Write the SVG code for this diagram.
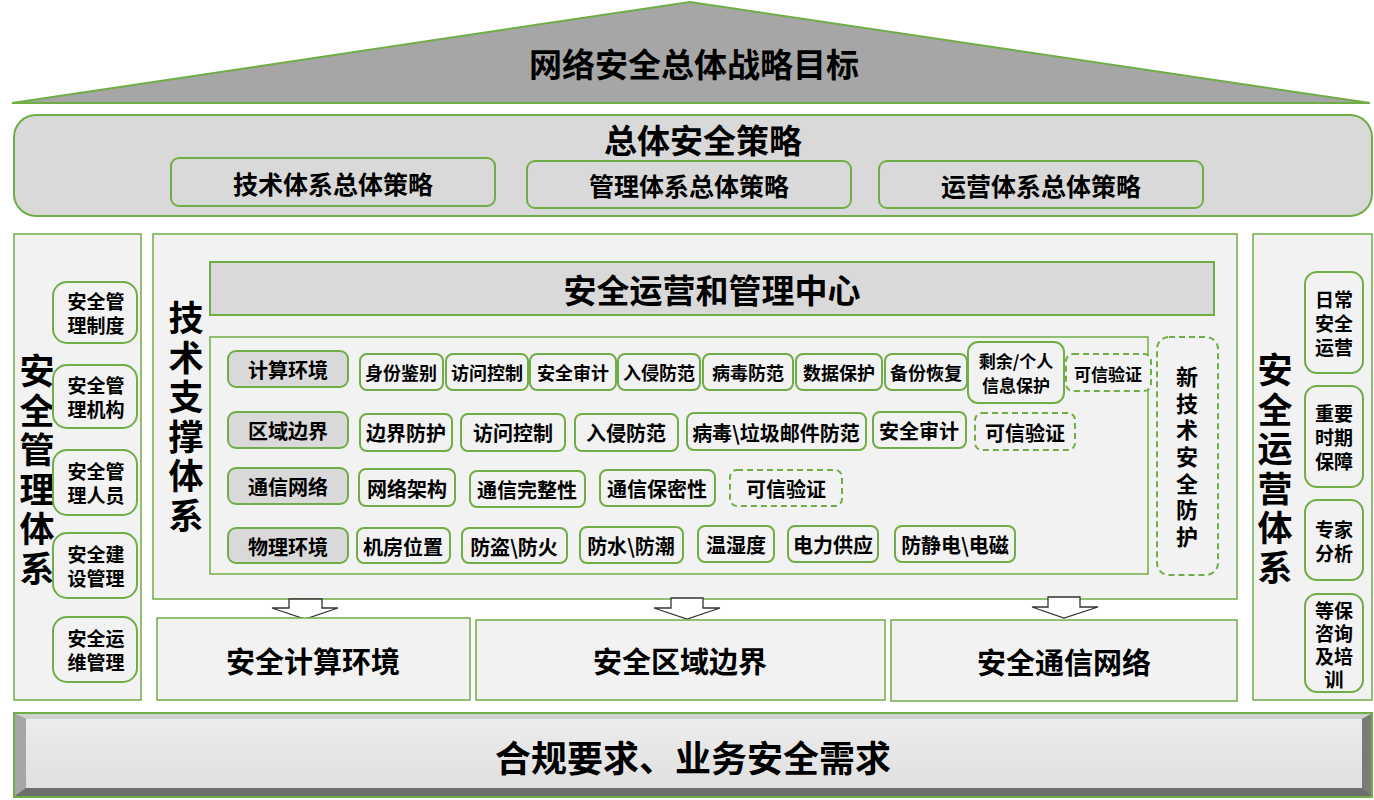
<svg xmlns="http://www.w3.org/2000/svg" width="1374" height="800" viewBox="0 0 1374 800">
<defs>
<style>
text{font-family:"Noto Sans CJK SC","Noto Sans",sans-serif;font-weight:700;fill:#000;text-anchor:middle;dominant-baseline:central}
.v{writing-mode:vertical-rl;text-orientation:upright}
.pan{fill:#f2f2f2;stroke:#70ad47;stroke-width:1.5}
.hdr{fill:#d9d9d9;stroke:#70ad47;stroke-width:2}
.it{fill:#f2f2f2;stroke:#70ad47;stroke-width:2}
.lab{fill:#d9d9d9;stroke:#70ad47;stroke-width:2}
.dash{fill:#f2f2f2;stroke:#70ad47;stroke-width:2;stroke-dasharray:6 4}
.arr{fill:#fff;stroke:#333;stroke-width:1.3}
.t18{font-size:18px}.t20{font-size:20px}.t19{font-size:19px}.t17{font-size:17px}
.t25{font-size:25px}.t29{font-size:29px}.t33{font-size:33px}.t36{font-size:36px}
.vb{font-size:35px;letter-spacing:4.5px}
.vs{font-size:22px;letter-spacing:4.7px}
</style>
<linearGradient id="face" x1="0" y1="0" x2="0" y2="1">
<stop offset="0" stop-color="#ececec"/><stop offset="1" stop-color="#e0e0e0"/>
</linearGradient>
</defs>
<rect width="1374" height="800" fill="#fff"/>

<g id="goal">
<polygon points="12,103 690,2 1370,103" fill="#a6a6a6" stroke="#70ad47" stroke-width="2"/>
<text x="694" y="63" class="t33">网络安全总体战略目标</text>
</g>

<g id="strategy">
<rect x="14" y="115" width="1358" height="101" rx="22" class="hdr"/>
<text x="703" y="139" class="t33">总体安全策略</text>
</g>
<g id="tech-strategy"><rect x="171" y="158" width="324" height="48" rx="8" class="hdr"/><text x="333" y="183" class="t25">技术体系总体策略</text></g>
<g id="mgmt-strategy"><rect x="527" y="161" width="324" height="47" rx="8" class="hdr"/><text x="689" y="185" class="t25">管理体系总体策略</text></g>
<g id="ops-strategy"><rect x="879" y="161" width="324" height="47" rx="8" class="hdr"/><text x="1041" y="185" class="t25">运营体系总体策略</text></g>

<g id="mgmt-system">
<rect x="14" y="234" width="127" height="466" class="pan"/>
<text x="37" y="472" class="v vb">安全管理体系</text>
</g>
<g id="m1"><rect x="53" y="282" width="84" height="61" rx="14" class="it"/><text class="t19"><tspan x="96" y="300">安全管</tspan><tspan x="96" y="324">理制度</tspan></text></g>
<g id="m2"><rect x="53" y="365" width="84" height="63" rx="14" class="it"/><text class="t19"><tspan x="96" y="384">安全管</tspan><tspan x="96" y="408">理机构</tspan></text></g>
<g id="m3"><rect x="53" y="450" width="84" height="65" rx="14" class="it"/><text class="t19"><tspan x="96" y="470">安全管</tspan><tspan x="96" y="494">理人员</tspan></text></g>
<g id="m4"><rect x="53" y="533" width="84" height="65" rx="14" class="it"/><text class="t19"><tspan x="96" y="553">安全建</tspan><tspan x="96" y="577">设管理</tspan></text></g>
<g id="m5"><rect x="53" y="617" width="84" height="65" rx="14" class="it"/><text class="t19"><tspan x="96" y="637">安全运</tspan><tspan x="96" y="661">维管理</tspan></text></g>

<g id="tech-system">
<rect x="153" y="234" width="1084" height="365" class="pan"/>
<text x="186" y="419" class="v vb">技术支撑体系</text>
</g>
<g id="soc"><rect x="210" y="262" width="1004" height="53" class="hdr"/><text x="712" y="289" class="t33">安全运营和管理中心</text></g>
<g id="inner"><rect x="210" y="337" width="938" height="237" class="pan" stroke-width="2"/></g>

<g id="row1">
<rect x="228" y="351" width="120" height="36" rx="8" class="lab"/><text x="288" y="369" class="t20">计算环境</text>
<rect x="360" y="354" width="83" height="36" rx="7" class="it"/><text x="401" y="372" class="t18">身份鉴别</text>
<rect x="446" y="354" width="82" height="36" rx="7" class="it"/><text x="487" y="372" class="t18">访问控制</text>
<rect x="530" y="354" width="86" height="36" rx="7" class="it"/><text x="573" y="372" class="t18">安全审计</text>
<rect x="618" y="354" width="82" height="36" rx="7" class="it"/><text x="659" y="372" class="t18">入侵防范</text>
<rect x="703" y="354" width="90" height="36" rx="7" class="it"/><text x="748" y="372" class="t18">病毒防范</text>
<rect x="796" y="354" width="86" height="36" rx="7" class="it"/><text x="839" y="372" class="t18">数据保护</text>
<rect x="885" y="354" width="82" height="36" rx="7" class="it"/><text x="926" y="372" class="t18">备份恢复</text>
<rect x="968" y="342" width="96" height="61" rx="10" class="it"/><text class="t17"><tspan x="1016" y="360">剩余/个人</tspan><tspan x="1016" y="384">信息保护</tspan></text>
<rect x="1066" y="354" width="85" height="37" rx="7" class="dash"/><text x="1108" y="373" class="t17">可信验证</text>
</g>
<g id="row2">
<rect x="228" y="412" width="120" height="36" rx="8" class="lab"/><text x="288" y="430" class="t20">区域边界</text>
<rect x="360" y="414" width="92" height="37" rx="7" class="it"/><text x="406" y="432" class="t20">边界防护</text>
<rect x="461" y="414" width="104" height="37" rx="7" class="it"/><text x="513" y="432" class="t20">访问控制</text>
<rect x="575" y="414" width="103" height="37" rx="7" class="it"/><text x="626" y="432" class="t20">入侵防范</text>
<rect x="687" y="413" width="179" height="37" rx="7" class="it"/><text x="776" y="432" class="t20">病毒\垃圾邮件防范</text>
<rect x="873" y="412" width="93" height="36" rx="7" class="it"/><text x="919" y="430" class="t20">安全审计</text>
<rect x="975" y="413" width="100" height="37" rx="7" class="dash"/><text x="1025" y="432" class="t20">可信验证</text>
</g>
<g id="row3">
<rect x="228" y="468" width="120" height="36" rx="8" class="lab"/><text x="288" y="486" class="t20">通信网络</text>
<rect x="359" y="469" width="96" height="37" rx="7" class="it"/><text x="407" y="488" class="t20">网络架构</text>
<rect x="470" y="471" width="115" height="36" rx="7" class="it"/><text x="527" y="489" class="t20">通信完整性</text>
<rect x="600" y="470" width="115" height="36" rx="7" class="it"/><text x="657" y="488" class="t20">通信保密性</text>
<rect x="730" y="470" width="112" height="36" rx="7" class="dash"/><text x="786" y="488" class="t20">可信验证</text>
</g>
<g id="row4">
<rect x="228" y="528" width="120" height="35" rx="8" class="lab"/><text x="288" y="546" class="t20">物理环境</text>
<rect x="357" y="528" width="93" height="35" rx="7" class="it"/><text x="403" y="546" class="t20">机房位置</text>
<rect x="462" y="528" width="105" height="35" rx="7" class="it"/><text x="514" y="546" class="t20">防盗\防火</text>
<rect x="580" y="527" width="103" height="36" rx="7" class="it"/><text x="631" y="545" class="t20">防水\防潮</text>
<rect x="698" y="526" width="76" height="36" rx="7" class="it"/><text x="736" y="544" class="t20">温湿度</text>
<rect x="788" y="526" width="90" height="36" rx="7" class="it"/><text x="833" y="544" class="t20">电力供应</text>
<rect x="895" y="526" width="120" height="36" rx="7" class="it"/><text x="955" y="544" class="t20">防静电\电磁</text>
</g>
<g id="new-tech">
<rect x="1157" y="337" width="61" height="238" rx="12" class="dash"/>
<text x="1187" y="459" class="v vs">新技术安全防护</text>
</g>

<g id="connectors">
<path class="arr" d="M289,599 H322 V608 H338 L305,619 L272,608 H289 Z"/>
<path class="arr" d="M671,598 H703 V608 H720 L687,619 L654,608 H671 Z"/>
<path class="arr" d="M1048,597 H1080 V607 H1098 L1064,618 L1032,607 H1048 Z"/>
</g>

<g id="sec-compute"><rect x="157" y="618" width="313" height="82" class="pan"/><text x="313" y="660" class="t29">安全计算环境</text></g>
<g id="sec-boundary"><rect x="476" y="620" width="409" height="80" class="pan"/><text x="680" y="660" class="t29">安全区域边界</text></g>
<g id="sec-network"><rect x="891" y="620" width="346" height="81" class="pan"/><text x="1064" y="661" class="t29">安全通信网络</text></g>

<g id="ops-system">
<rect x="1253" y="234" width="119" height="466" class="pan"/>
<text x="1275" y="471" class="v vb">安全运营体系</text>
</g>
<g id="o1"><rect x="1305" y="272" width="58" height="101" rx="12" class="it"/><text class="t19"><tspan x="1334" y="298">日常</tspan><tspan x="1334" y="322">安全</tspan><tspan x="1334" y="346">运营</tspan></text></g>
<g id="o2"><rect x="1305" y="386" width="58" height="101" rx="12" class="it"/><text class="t19"><tspan x="1334" y="412">重要</tspan><tspan x="1334" y="436">时期</tspan><tspan x="1334" y="460">保障</tspan></text></g>
<g id="o3"><rect x="1305" y="500" width="58" height="80" rx="12" class="it"/><text class="t19"><tspan x="1334" y="528">专家</tspan><tspan x="1334" y="552">分析</tspan></text></g>
<g id="o4"><rect x="1305" y="594" width="58" height="98" rx="12" class="it"/><text class="t19"><tspan x="1334" y="609">等保</tspan><tspan x="1334" y="632">咨询</tspan><tspan x="1334" y="655">及培</tspan><tspan x="1334" y="678">训</tspan></text></g>

<g id="compliance">
<rect x="14" y="713" width="1358" height="84" fill="#8c8c8c" stroke="#70ad47" stroke-width="2"/>
<polygon points="15,714 1371,714 1362,719 26,719" fill="#d0d0d0"/>
<polygon points="15,714 26,719 26,788 15,796" fill="#a6a6a6"/>
<polygon points="1371,714 1362,719 1362,788 1371,796" fill="#7a7a7a"/>
<polygon points="15,796 26,788 1362,788 1371,796" fill="#6e6e6e"/>
<rect x="26" y="719" width="1336" height="69" fill="url(#face)"/>
<text x="693" y="756" class="t36">合规要求、业务安全需求</text>
</g>
</svg>
